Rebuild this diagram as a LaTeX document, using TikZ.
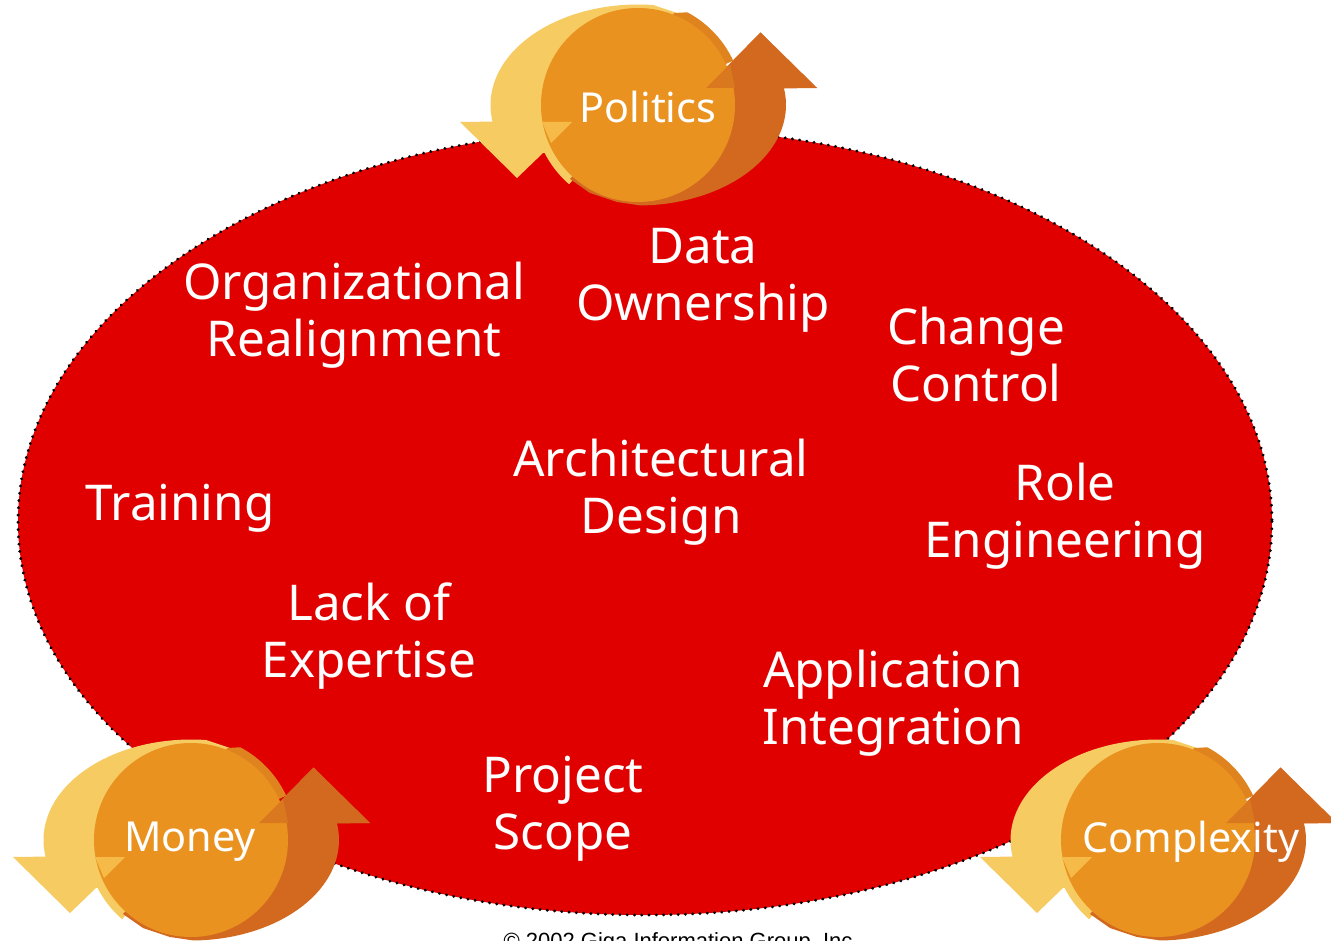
\documentclass[tikz,border=0pt]{standalone}
\usepackage{fontspec}
\setmainfont{Noto Sans}
\newfontfamily\notefont{Liberation Sans}
\definecolor{ovalred}{HTML}{E00000}
\definecolor{cyclemid}{HTML}{EA921F}
\definecolor{cyclelight}{HTML}{F6CB62}
\definecolor{cyclelighter}{HTML}{F5BA48}
\definecolor{cycledark}{HTML}{D3691F}
\definecolor{cycleband}{HTML}{DF831F}
\definecolor{cycletip}{HTML}{D9781F}
\tikzset{
  issue/.style={text=white, align=center, inner sep=0pt, font=\fontsize{37}{42.75}\selectfont},
  force/.style={text=white, inner sep=0pt, font=\fontsize{31}{36}\selectfont},
  pics/cyclemark/.style={code={
    \fill[cyclelight] plot[domain=-84:-189.5,samples=50] ({147.5*cos(\x)},{100.5*sin(\x)})
      -- (-178,17) -- (-121,73) -- (-95,48)
      -- plot[domain=153:131,samples=10] ({105*cos(\x)},{105*sin(\x)}) -- (0,0) -- (39,-92) -- cycle;
    \fill[cycledark] plot[domain=89:-9.5,samples=50] ({148*cos(\x)},{100.5*sin(\x)})
      -- (179,-17) -- (122.5,-72.5) -- (68,-17) -- (0,0)
      -- (-68,74) -- (-48,88) -- (-21,97) -- cycle;
    \fill[cycleband] (36,-92) -- plot[domain=-62:-25,samples=20] ({105*cos(\x)},{105*sin(\x)}) -- (0,0) -- cycle;
    \fill[cycledark] (179,-17) -- (122.5,-72.5) -- (68,-17) -- cycle;
    \fill[cyclemid] (0,0) circle[radius=97];
    \fill[cyclelighter] (-96,17) -- (-66,17) -- (-87,38) -- cycle;
    \fill[cycletip] (68,-17) -- (97,-17) -- (92,-41) -- cycle;
  }}
}
\begin{document}
\begin{tikzpicture}[x=0.75pt,y=-0.75pt]
  \useasboundingbox (0,0) rectangle (1331,941);
  \fill[ovalred] (645,521.5) ellipse[x radius=627,y radius=393.5];
  \draw[black,line width=2.4pt,line cap=round,dash pattern=on 0.01pt off 5.45pt] (645,521.5) ellipse[x radius=627,y radius=393.5];

  \pic at (638,105) {cyclemark};
  \pic at (191,840) {cyclemark};
  \pic at (1158,840) {cyclemark};

  \node[force] (politics)   at (648,107)  {Politics};
  \node[force] (money)      at (190,842)  {Money};
  \node[force] (complexity) at (1191,842) {Complexity};

  \node[issue] (realign)  at (354,315)  {Organizational\\Realignment};
  \node[issue] (data)     at (703,280)  {Data\\Ownership};
  \node[issue] (change)   at (976,354)  {Change\\Control};
  \node[issue] (arch)     at (661,492)  {Architectural\\Design};
  \node[issue] (role)     at (1065,516) {Role\\Engineering};
  \node[issue] (training) at (180,508)  {Training};
  \node[issue] (lack)     at (369,636)  {Lack of\\Expertise};
  \node[issue] (appint)   at (893,703)  {Application\\Integration};
  \node[issue] (scope)    at (563,809)  {Project\\Scope};

  \node[inner sep=0pt,font=\notefont\fontsize{16.5}{20}\selectfont,anchor=base] (note) at (678,948) {© 2002 Giga Information Group, Inc};
\end{tikzpicture}
\end{document}
